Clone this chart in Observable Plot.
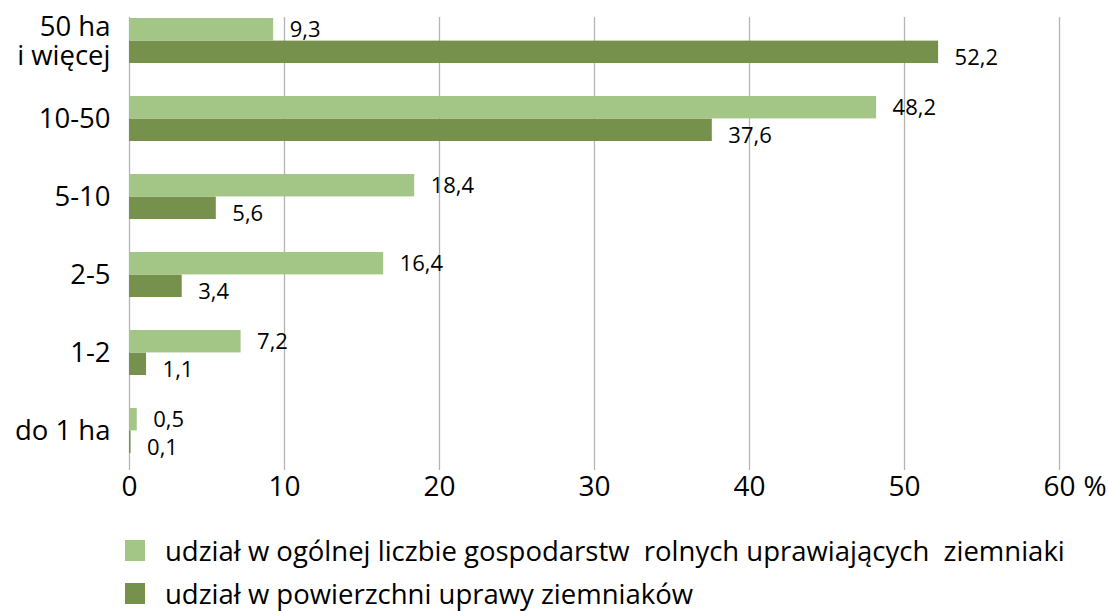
<!DOCTYPE html>
<html>
<head>
<meta charset="utf-8">
<script src="https://cdn.jsdelivr.net/npm/d3@7"></script>
<script src="https://cdn.jsdelivr.net/npm/@observablehq/plot@0.6"></script>
<style>
  html, body { margin: 0; padding: 0; background: #fff; }
  body { width: 1108px; height: 611px; overflow: hidden; font-family: "Open Sans", sans-serif; }
  #legend { position: relative; margin-left: 125px; padding-top: 4px; }
  .row { display: flex; align-items: center; height: 43px; font-size: 27.5px; line-height: 36px; color: #000; }
  .sw { width: 20px; height: 21px; margin-right: 20px; flex: none; }
</style>
</head>
<body>
<div id="chart"></div>
<div id="legend"></div>
<script>
const categories = ["50 ha\ni więcej", "10-50", "5-10", "2-5", "1-2", "do 1 ha"];
const seriesNames = [
  "udział w ogólnej liczbie gospodarstw  rolnych uprawiających  ziemniaki",
  "udział w powierzchni uprawy ziemniaków"
];
const farmsShare = [9.3, 48.2, 18.4, 16.4, 7.2, 0.5];
const areaShare = [52.2, 37.6, 5.6, 3.4, 1.1, 0.1];
const xTicks = [0, 10, 20, 30, 40, 50, 60];
const unitLabel = "%";
const colors = ["#a3c585", "#76914b"];

const rows1 = categories.map((c, i) => ({cat: c, v: farmsShare[i]}));
const rows2 = categories.map((c, i) => ({cat: c, v: areaShare[i]}));
const fmt = v => v.toFixed(1).replace(".", ",");
const half = 22.6;

const chart = Plot.plot({
  width: 1108,
  height: 525,
  marginLeft: 129,
  marginRight: 49,
  marginTop: 17,
  marginBottom: 55,
  style: {fontFamily: "Open Sans, sans-serif", background: "#fff", color: "#000"},
  x: {domain: [0, 60], axis: null},
  y: {domain: categories, range: [0, 471], paddingInner: 0.424, paddingOuter: 0.212, axis: null},
  marks: [
    Plot.ruleX(xTicks, {stroke: "#b4b4b4", strokeWidth: 1.3}),
    Plot.barX(rows1, {x: "v", y: "cat", fill: colors[0], insetBottom: half}),
    Plot.barX(rows2, {x: "v", y: "cat", fill: colors[1], insetTop: half}),
    Plot.text(rows1, {x: "v", y: "cat", text: d => fmt(d.v), textAnchor: "start", dx: 16, dy: -11, fontSize: 22, fill: "#000"}),
    Plot.text(rows2, {x: "v", y: "cat", text: d => fmt(d.v), textAnchor: "start", dx: 16, dy: 17, fontSize: 22, fill: "#000"}),
    Plot.axisY({tickSize: 0, tickPadding: 19, fontSize: 27.5, lineHeight: 1.06, label: null, textAnchor: "end", fill: "#000"}),
    Plot.text(xTicks, {x: d => d, frameAnchor: "bottom", dy: 25, text: d => String(d), fontSize: 28, fill: "#000"}),
    Plot.text([unitLabel], {x: [60], frameAnchor: "bottom", dy: 25, dx: 24, textAnchor: "start", fontSize: 28, fill: "#000"})
  ]
});
document.getElementById("chart").appendChild(chart);

const legend = document.getElementById("legend");
seriesNames.forEach((name, i) => {
  const row = document.createElement("div");
  row.className = "row";
  const sw = document.createElement("span");
  sw.className = "sw";
  sw.style.background = colors[i];
  const t = document.createElement("span");
  t.textContent = name;
  t.style.whiteSpace = "pre";
  row.appendChild(sw);
  row.appendChild(t);
  legend.appendChild(row);
});
</script>
</body>
</html>
